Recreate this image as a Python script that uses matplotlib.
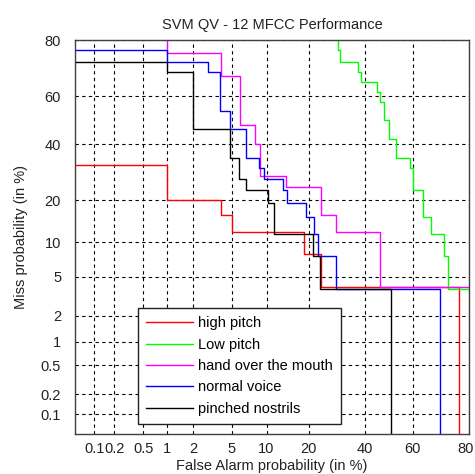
import numpy as np
import matplotlib
matplotlib.use("Agg")
import matplotlib.pyplot as plt
import matplotlib.transforms as mtransforms
from statistics import NormalDist

# ---- data (percent) ----
tick_vals = [0.1, 0.2, 0.5, 1, 2, 5, 10, 20, 40, 60, 80]
tick_labels = ["0.1", "0.2", "0.5", "1", "2", "5", "10", "20", "40", "60", "80"]

labels = ["high pitch", "Low pitch", "hand over the mouth", "normal voice", "pinched nostrils"]

high_fa = [0, 1, 3.9, 5, 18.8, 23.8, 77]
high_miss = [32, 20, 16, 12, 8, 4, 0]

low_fa = [29.7, 29.7, 30.5, 37.2, 38.5, 45.3, 46.2, 47.9, 50.0, 53.1, 58.7, 60.2, 64.1, 67.2, 71.8, 73.2, 95]
low_miss = [99, 76.9, 73.1, 69.2, 65.4, 61.5, 57.7, 50.0, 42.3, 34.6, 30.8, 23.1, 15.4, 11.5, 7.7, 3.85, 0]

hand_fa = [1, 1, 3.96, 5.9, 8.0, 8.93, 13.97, 23.8, 28.9, 46.2, 95]
hand_miss = [99, 76, 68, 48, 40, 28, 24, 16, 12, 4, 0]

normal_fa = [0, 1, 2.9, 3.8, 4.8, 6.7, 8.65, 9.56, 13.4, 14.35, 19.2, 21.75, 23.0, 28.9, 70.3]
normal_miss = [76.9, 73.1, 69.2, 53.8, 46.2, 34.6, 30.8, 26.9, 23.1, 19.2, 15.4, 11.5, 7.7, 3.85, 0]

pinched_fa = [0, 1, 2, 4.8, 5.8, 6.7, 10.3, 11.5, 21.2, 23.7, 51]
pinched_miss = [73.1, 69.2, 46.2, 34.6, 26.9, 23.1, 19.2, 11.5, 7.7, 3.85, 0]

colors = ["#ff0000", "#00ff00", "#ff00ff", "#0000ff", "#000000"]

_nd = NormalDist()
_ppf = np.vectorize(_nd.inv_cdf, otypes=[float])
_cdf = np.vectorize(_nd.cdf, otypes=[float])


def fwd(p):
    q = np.clip(np.asarray(p, float) / 100.0, 1e-7, 1 - 1e-7)
    return _ppf(q)


def inv(z):
    return _cdf(np.asarray(z, float)) * 100.0


plt.rcParams['font.family'] = ['Liberation Sans', 'DejaVu Sans']

fig = plt.figure(figsize=(4.75, 4.74), dpi=100)
W, H = 475, 474
L, R, T, B = 75, 469, 40, 433.5
ax = fig.add_axes([L / W, (H - B) / H, (R - L) / W, (B - T) / H])
ax.set_xscale('function', functions=(fwd, inv))
ax.set_yscale('function', functions=(fwd, inv))

series = [(high_fa, high_miss), (low_fa, low_miss), (hand_fa, hand_miss),
          (normal_fa, normal_miss), (pinched_fa, pinched_miss)]
for (fa, ms), c, lab in zip(series, colors, labels):
    ax.step(fa, ms, where='post', color=c, lw=1.0, label=lab)

ax.set_xlim(0.05, 80)
ax.set_ylim(0.05, 80)
ax.set_xticks(tick_vals)
ax.set_xticklabels(tick_labels)
ax.set_yticks(tick_vals)
ax.set_yticklabels(tick_labels)
ax.minorticks_off()
ax.grid(True, color='black', linestyle=(0, (3, 3)), lw=0.8)
ax.tick_params(direction='in', length=0, labelsize=10.5, colors='#222222')
ax.tick_params(axis='y', pad=10)
ax.tick_params(axis='x', pad=6)
for s in ax.spines.values():
    s.set_color('#404040')
    s.set_linewidth(1.0)

# nudge the last x tick label so it stays inside the figure
last = ax.get_xticklabels()[-1]
last.set_transform(last.get_transform() +
                   mtransforms.ScaledTranslation(-3 / 100, 0, fig.dpi_scale_trans))

ax.set_title("SVM QV - 12 MFCC Performance", fontsize=10.5, pad=8, color='#222222')
ax.set_xlabel("False Alarm probability (in %)", fontsize=10.5, labelpad=2, color='#222222')
ax.set_ylabel("Miss probability (in %)", fontsize=10.5, labelpad=9, color='#222222')

leg = ax.legend(loc='lower left', bbox_to_anchor=(0.16, 0.025), fontsize=10.5,
                fancybox=False, framealpha=1, edgecolor='#222222',
                handlelength=3.2, handletextpad=0.35, labelspacing=0.5,
                borderpad=0.55, borderaxespad=0)
leg.get_frame().set_linewidth(1.0)

fig.savefig("out.png", dpi=100)
